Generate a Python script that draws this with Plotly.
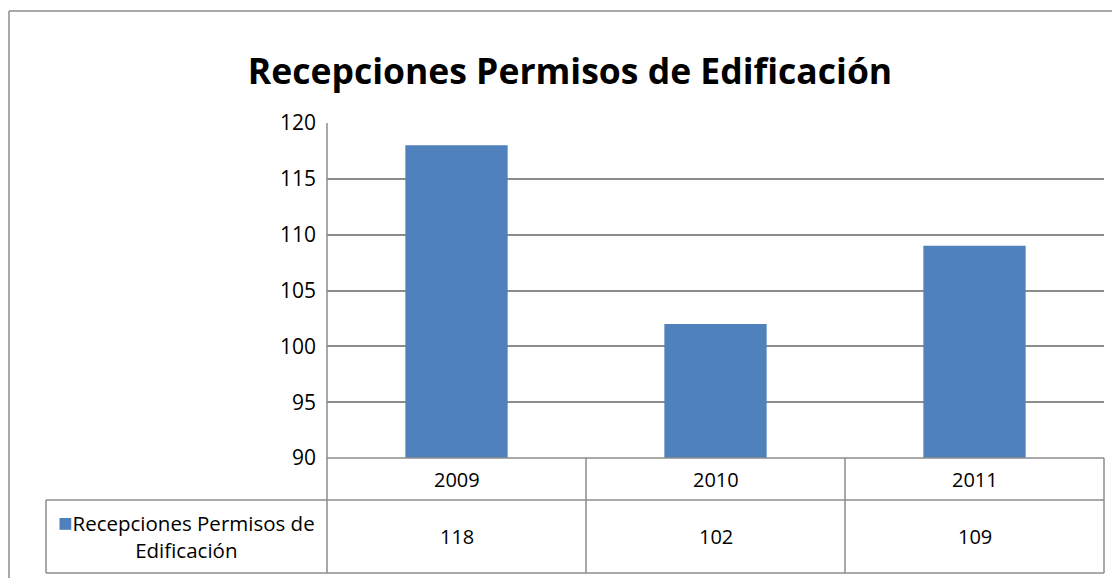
import plotly.graph_objects as go

categories = ["2009", "2010", "2011"]
values = [118, 102, 109]
series_name = "Recepciones Permisos de Edificación"
title_text = "Recepciones Permisos de Edificación"
y_ticks = [90, 95, 100, 105, 110, 115, 120]

OFF = 8  # page body margin
W, H = 1120 - 2 * OFF, 586 - 2 * OFF
PL, PR, PT, PB = 327 - OFF, 1104 - OFF, 123 - OFF, 458 - OFF  # plot area in figure pixels
BAR_COLOR = "#4F81BD"
LINE_COLOR = "#8C8C8C"
FONT = "Open Sans"


def px(x):
    return (x - OFF - PL) / (PR - PL)


def py(y):
    return (PB - (y - OFF)) / (PB - PT)


fig = go.Figure()
fig.add_trace(go.Bar(x=categories, y=values, marker=dict(color=BAR_COLOR, line=dict(width=0)),
                     name=series_name, width=0.395, showlegend=False))

shapes = []


def line(x0, y0, x1, y1):
    shapes.append(dict(type="line", xref="paper", yref="paper", x0=px(x0), y0=py(y0),
                       x1=px(x1), y1=py(y1), line=dict(color=LINE_COLOR, width=1.5)))


# table lines (page pixel coordinates)
TB_TOP, ROW1, ROW2 = 458, 500, 573
TL, TR, AX = 46, 1104, 327
line(AX, TB_TOP, TR, TB_TOP)
line(TL, ROW1, TR, ROW1)
line(TL, ROW2, TR, ROW2)
line(TL, ROW1, TL, ROW2)
line(AX, 123, AX, ROW2)
col_w = (TR - AX) / len(categories)
for i in range(1, len(categories) + 1):
    xx = AX + col_w * i
    line(xx, TB_TOP, xx, ROW2)
# outer chart border
line(9, 11, 1125, 11)
line(9, 11, 9, 600)

annotations = []
for i, (c, v) in enumerate(zip(categories, values)):
    annotations.append(dict(x=i, y=py((TB_TOP + ROW1) / 2), xref="x", yref="paper", text=c,
                            showarrow=False, font=dict(family=FONT, size=20, color="#000"),
                            xanchor="center", yanchor="middle"))
    annotations.append(dict(x=i, y=py((ROW1 + ROW2) / 2), xref="x", yref="paper", text=str(v),
                            showarrow=False, font=dict(family=FONT, size=20, color="#000"),
                            xanchor="center", yanchor="middle"))
annotations.append(dict(x=px((TL + AX) / 2), y=py((ROW1 + ROW2) / 2 - 2), xref="paper", yref="paper",
                        text=f"<span style='color:{BAR_COLOR};font-size:24px'>■</span>Recepciones Permisos de<br>Edificación",
                        showarrow=False, align="center",
                        font=dict(family=FONT, size=20.5, color="#000"),
                        xanchor="center", yanchor="middle"))

fig.update_layout(
    width=W, height=H,
    margin=dict(l=PL, r=W - PR, t=PT, b=H - PB, pad=0),
    paper_bgcolor="white", plot_bgcolor="white",
    title=dict(text=f"<b>{title_text}</b>", x=(570 - OFF) / W, xanchor="center",
               y=1 - (72 - OFF) / H, yanchor="middle",
               font=dict(family=FONT, size=35.5, color="#000")),
    bargap=0.6,
    xaxis=dict(type="category", range=[-0.5, len(categories) - 0.5], showticklabels=False,
               showgrid=False, zeroline=False, showline=False, ticks=""),
    yaxis=dict(range=[90, 120], tickvals=y_ticks, showgrid=True, gridcolor=LINE_COLOR, gridwidth=1.5,
               zeroline=False, showline=False, ticks="", ticklabelstandoff=10,
               tickfont=dict(family=FONT, size=21, color="#000")),
    shapes=shapes,
    annotations=annotations,
)

fig.write_html("out.html")
